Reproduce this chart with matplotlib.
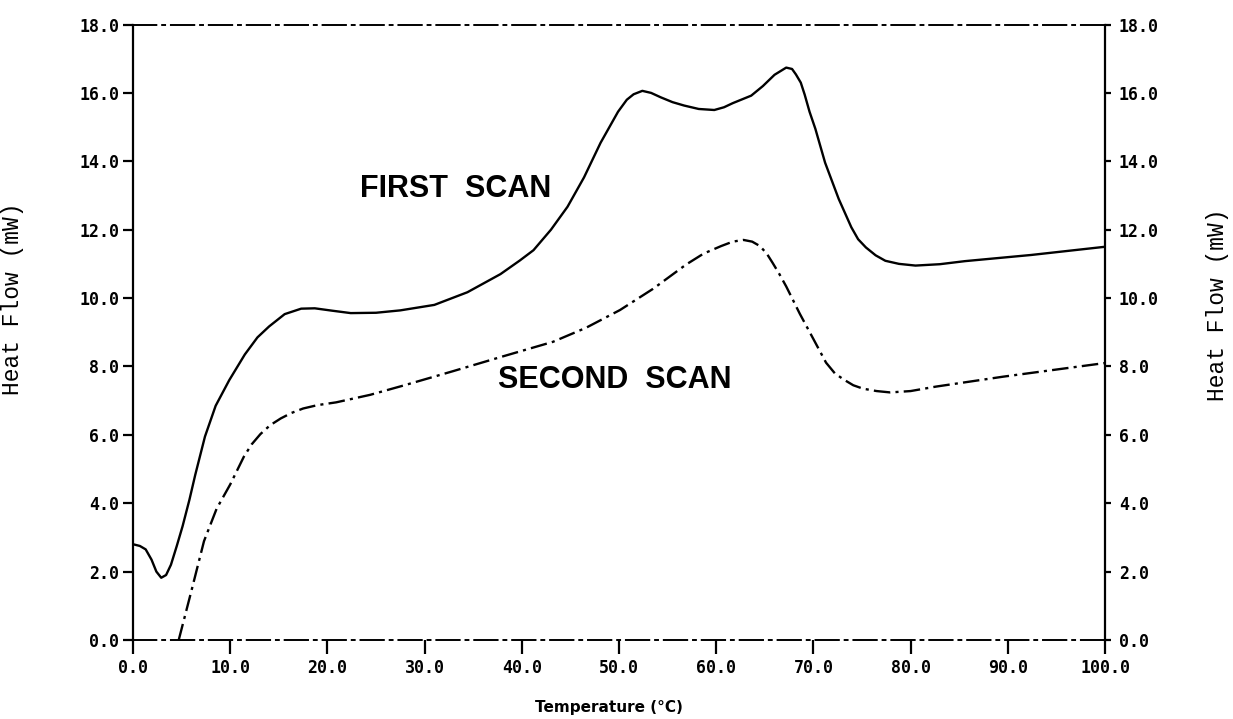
import matplotlib
matplotlib.use('Agg')
from matplotlib import pyplot as plt
from matplotlib.font_manager import FontProperties
import numpy as np

# first scan (solid)
first_t = [0.0, 0.7, 1.3, 1.9, 2.4, 2.9, 3.4, 3.9, 4.5, 5.1, 5.8, 6.4, 7.4, 8.5, 9.9,
           11.5, 12.8, 14.0, 15.6, 17.3, 18.7, 20.5, 22.4, 25.0, 27.5, 31.0, 34.4,
           37.8, 39.8, 41.2, 43.0, 44.7, 46.4, 48.1, 49.9, 50.8, 51.5, 52.4, 53.3,
           54.3, 55.5, 56.7, 58.2, 59.8, 60.8, 61.7, 63.6, 64.8, 66.0, 67.2, 67.8,
           68.2, 68.7, 69.1, 69.6, 70.2, 71.2, 72.6, 73.9, 74.6, 75.4, 76.4, 77.4,
           78.8, 80.5, 83.0, 85.6, 92.4, 100.0]
first_hf = [2.8, 2.75, 2.65, 2.35, 2.0, 1.82, 1.9, 2.2, 2.75, 3.33, 4.1, 4.83, 5.95, 6.85, 7.6,
            8.35, 8.85, 9.17, 9.53, 9.69, 9.7, 9.63, 9.56, 9.57, 9.64, 9.8, 10.17,
            10.7, 11.1, 11.4, 12.0, 12.67, 13.53, 14.54, 15.45, 15.8, 15.96, 16.06, 16.0,
            15.87, 15.73, 15.63, 15.53, 15.5, 15.58, 15.7, 15.92, 16.2, 16.53, 16.74, 16.7,
            16.54, 16.3, 15.95, 15.45, 14.95, 13.96, 12.9, 12.07, 11.72, 11.48, 11.25, 11.09,
            11.0, 10.95, 10.99, 11.08, 11.26, 11.5]

# second scan (dash-dot)
second_t = [4.7, 6.0, 7.3, 8.6, 10.0, 11.4, 12.2, 13.1, 14.1, 15.2, 16.3, 17.5, 19.0,
            20.9, 24.4, 27.8, 32.9, 38.0, 43.2, 46.6, 50.1, 53.5, 56.9, 58.7, 60.5,
            61.7, 62.8, 63.7, 64.5, 65.2, 65.8, 66.5, 67.2, 68.6, 70.0, 71.3, 72.2,
            73.1, 74.1, 75.1, 76.5, 77.9, 80.0, 82.6, 89.5, 100.0]
second_hf = [0.0, 1.43, 2.89, 3.84, 4.55, 5.36, 5.72, 6.02, 6.28, 6.48, 6.64, 6.77, 6.87,
             6.95, 7.17, 7.44, 7.86, 8.29, 8.72, 9.13, 9.65, 10.27, 10.98, 11.3, 11.52,
             11.65, 11.7, 11.65, 11.52, 11.3, 11.03, 10.7, 10.34, 9.54, 8.8, 8.11, 7.8,
             7.62, 7.45, 7.35, 7.28, 7.24, 7.28, 7.41, 7.7, 8.1]

x_ticks = np.arange(0, 101, 10)
y_ticks = np.arange(0, 19, 2)

fig = plt.figure(figsize=(12.33, 7.19), dpi=100)
ax = fig.add_axes([0.1079, 0.1099, 0.7883, 0.856])

ax.plot(first_t, first_hf, color='black', lw=1.7, solid_joinstyle='round')
ax.plot(second_t, second_hf, color='black', lw=1.7, linestyle=(0, (7, 2.2, 1.3, 2.2)))

ax.set_xlim(0, 100)
ax.set_ylim(0, 18)
ax.set_xticks(x_ticks)
ax.set_xticklabels([f'{v:.1f}' for v in x_ticks])
ax.set_yticks(y_ticks)
ax.set_yticklabels([f'{v:.1f}' for v in y_ticks])

tick_font = FontProperties(family='DejaVu Sans Mono', weight='bold', size=12)
for lab in ax.get_xticklabels() + ax.get_yticklabels():
    lab.set_fontproperties(tick_font)

ax.tick_params(axis='x', direction='out', length=10, width=1.6, pad=4)
ax.tick_params(axis='y', direction='out', length=7, width=1.6, pad=3)

# frame: solid sides, dash-dot top and bottom like the plotter output
for side in ['left', 'right']:
    ax.spines[side].set_linewidth(1.6)
for side in ['top', 'bottom']:
    ax.spines[side].set_linewidth(1.4)
    ax.spines[side].set_linestyle((0, (12, 3, 1.5, 3)))

# right axis repeats the same scale
ax2 = ax.twinx()
ax2.set_ylim(0, 18)
ax2.set_yticks(y_ticks)
ax2.set_yticklabels([f'{v:.1f}' for v in y_ticks])
for lab in ax2.get_yticklabels():
    lab.set_fontproperties(tick_font)
ax2.tick_params(axis='y', direction='out', length=4, width=1.6, pad=6)
for side in ax2.spines:
    ax2.spines[side].set_visible(False)

label_font = dict(family='Liberation Mono', size=16.5)
ax.set_ylabel('Heat Flow (mW)', **label_font)
ax.yaxis.set_label_coords(-0.112, 0.555)
ax2.set_ylabel('Heat Flow (mW)', **label_font)
ax2.yaxis.set_label_coords(1.104, 0.545)

ax.set_xlabel('Temperature (°C)', family='DejaVu Sans', weight='bold', size=11)
ax.xaxis.set_label_coords(0.49, -0.097)

ax.text(23.4, 13.2, 'FIRST  SCAN', family='Liberation Sans', weight='bold',
        size=22, ha='left', va='center')
ax.text(37.5, 7.6, 'SECOND  SCAN', family='Liberation Sans', weight='bold',
        size=22, ha='left', va='center')

fig.savefig('out.png', dpi=100)
